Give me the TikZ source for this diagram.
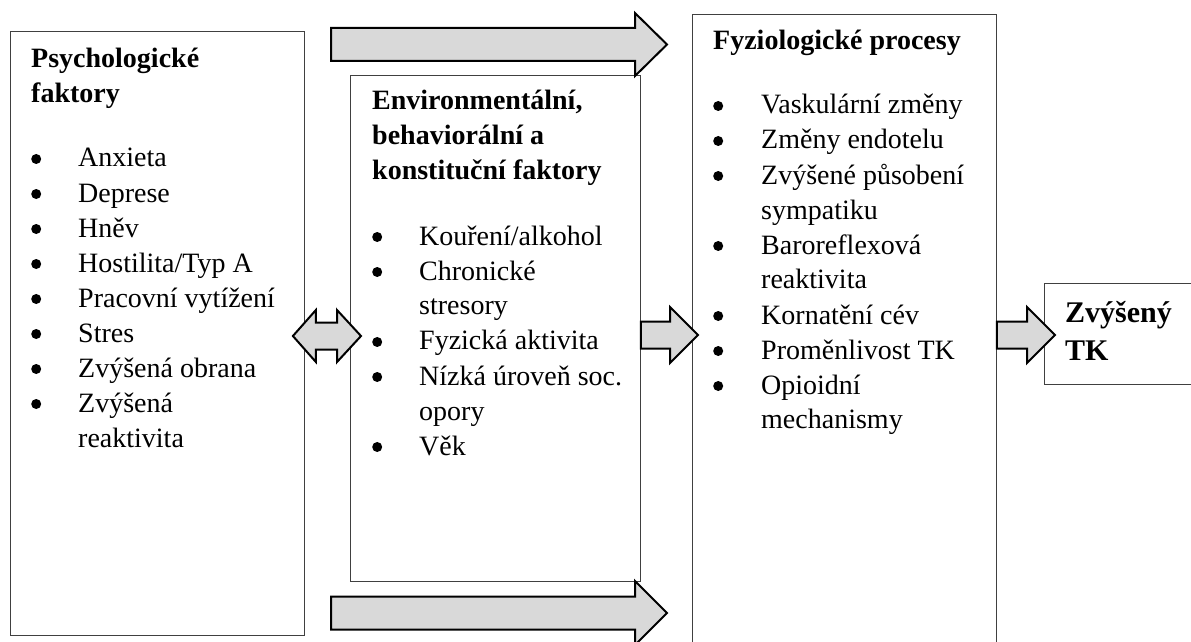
\documentclass[tikz,border=0pt]{standalone}
\usepackage{fontspec}
\setmainfont{Liberation Serif}
\usepackage{array}
\usetikzlibrary{calc, positioning}
\tikzset{
  box/.style    = {rectangle, draw=black!75, line width=0.9pt, fill=white,
                   inner sep=0pt, anchor=north west},
  txt/.style    = {inner sep=0pt, anchor=base west,
                   font=\fontsize{28}{35}\selectfont},
  barrow/.style = {draw=black, line width=2pt, fill=black!15, line join=miter},
}
% bullet row and continuation row of a list
\newcommand\bull{\tikz[baseline=0pt]\fill[black] (5pt,8pt) circle[radius=5pt];}
\newcommand\itm[1]{\bull & #1\\}
\newcommand\cnt[1]{& #1\\}
\newcommand\hd[1]{\multicolumn{2}{@{}l@{}}{\bfseries #1}\\}
% start, tip, body half height, head half height, head length
\newcommand\blockarrow[5]{%
  \draw[barrow] let \p1=#1, \p2=#2 in
    (\x1,\y1+#3) -- (\x2-#5,\y1+#3) -- (\x2-#5,\y1+#4) -- (\x2,\y1)
    -- (\x2-#5,\y1-#4) -- (\x2-#5,\y1-#3) -- (\x1,\y1-#3) -- cycle;}

\begin{document}
\begin{tikzpicture}[x=1pt, y=-1pt]
  \useasboundingbox (0,0) rectangle (1191,642);
  \clip (0,0) rectangle (1191,642);

  % boxes
  \node[box, minimum width=294pt, minimum height=604pt] (psy) at (10,31)   {};
  \node[box, minimum width=290pt, minimum height=506pt] (env) at (350,75)  {};
  \node[box, minimum width=304pt, minimum height=660pt] (fyz) at (692,14)  {};
  \node[box, minimum width=170pt, minimum height=101pt] (tk)  at (1044,283) {};

  % ---- texts ---------------------------------------------------------------
  \node[txt] (psytxt) at (31,67) {%
    \begin{tabular}[t]{@{}p{47pt}@{}l@{}}
      \hd{Psychologické}
      \multicolumn{2}{@{}l@{}}{\bfseries faktory}\\[30pt]
      \itm{Anxieta}
      \itm{Deprese}
      \itm{Hněv}
      \itm{Hostilita/Typ A}
      \itm{Pracovní vytížení}
      \itm{Stres}
      \itm{Zvýšená obrana}
      \itm{Zvýšená}
      \cnt{reaktivita}
    \end{tabular}};

  \node[txt] (envtxt) at (372,110) {%
    \begin{tabular}[t]{@{}p{47pt}@{}l@{}}
      \hd{Environmentální,}
      \hd{behaviorální a}
      \multicolumn{2}{@{}l@{}}{\bfseries konstituční faktory}\\[30pt]
      \itm{Kouření/alkohol}
      \itm{Chronické}
      \cnt{stresory}
      \itm{Fyzická aktivita}
      \itm{Nízká úroveň soc.}
      \cnt{opory}
      \itm{Věk}
    \end{tabular}};

  \node[txt] (fyztxt) at (713,49) {%
    \begin{tabular}[t]{@{}p{48pt}@{}l@{}}
      \multicolumn{2}{@{}l@{}}{\bfseries Fyziologické procesy}\\[30pt]
      \itm{Vaskulární změny}
      \itm{Změny endotelu}
      \itm{Zvýšené působení}
      \cnt{sympatiku}
      \itm{Baroreflexová}
      \cnt{reaktivita}
      \itm{Kornatění cév}
      \itm{Proměnlivost TK}
      \itm{Opioidní}
      \cnt{mechanismy}
    \end{tabular}};

  \node[txt, font=\fontsize{30}{38}\selectfont\bfseries, align=left]
    (tktxt) at (1065,322) {\begin{tabular}[t]{@{}l@{}}Zvýšený\\TK\end{tabular}};

  % ---- block arrows --------------------------------------------------------
  \coordinate (topa) at (331,44.5);
  \coordinate (topb) at (667,44.5);
  \coordinate (bota) at (331,613);
  \coordinate (botb) at (667,613);
  \coordinate (mid)  at (0,335);

  \blockarrow{(topa)}{(topb)}{16.5pt}{31.5pt}{32pt}
  \blockarrow{(bota)}{(botb)}{16.5pt}{32pt}{32pt}
  \blockarrow{(env.east |- mid)}{($(fyz.west |- mid)+(6,0)$)}{13.5pt}{28pt}{28pt}
  \blockarrow{(fyz.east |- mid)}{($(tk.west |- mid)+(11,0)$)}{13.5pt}{28pt}{28pt}

  % double arrow between the first two boxes
  \draw[barrow] let \p1=($(psy.east |- mid)+(-12,1)$),
                    \p2=($(env.west |- mid)+(11,1)$) in
    (\x1,\y1) -- (\x1+23pt,\y1+26pt) -- (\x1+23pt,\y1+13.5pt)
    -- (\x2-24pt,\y1+13.5pt) -- (\x2-24pt,\y1+26pt) -- (\x2,\y1)
    -- (\x2-24pt,\y1-26pt) -- (\x2-24pt,\y1-13.5pt)
    -- (\x1+23pt,\y1-13.5pt) -- (\x1+23pt,\y1-26pt) -- cycle;
\end{tikzpicture}
\end{document}
